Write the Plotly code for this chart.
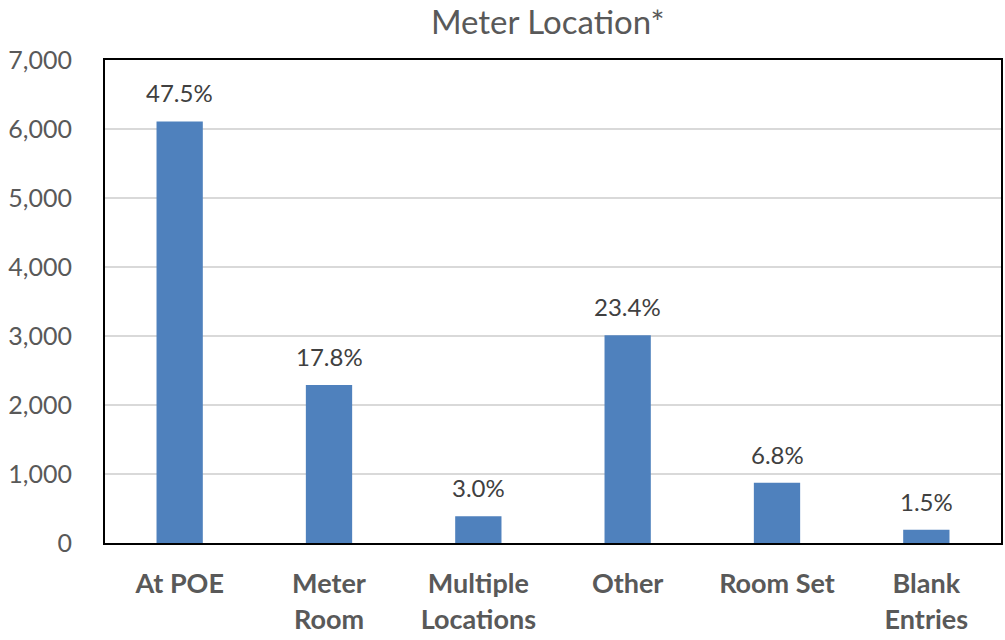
import plotly.graph_objects as go

categories = ["At POE", "Meter<br>Room", "Multiple<br>Locations", "Other", "Room Set", "Blank<br>Entries"]
counts = [6110, 2290, 386, 3010, 875, 193]
y_ticks = [0, 1000, 2000, 3000, 4000, 5000, 6000, 7000]

total = sum(counts)
pct_labels = [f"{c / total * 100:.1f}%" for c in counts]

FONT = "Lato, 'Open Sans', sans-serif"

fig = go.Figure(
    go.Bar(
        x=categories,
        y=counts,
        marker=dict(color="#4f81bd", line=dict(width=0)),
        width=0.31,
        hoverinfo="x+y",
    )
)

# percentage labels floating above each bar
for cat, val, lab in zip(categories, counts, pct_labels):
    fig.add_annotation(
        x=cat,
        y=val,
        text=lab,
        showarrow=False,
        yanchor="bottom",
        yshift=12,
        font=dict(family=FONT, size=24, color="#404040"),
    )

fig.update_layout(
    width=1005,
    height=640,
    margin=dict(l=105, r=2, t=60, b=97),
    paper_bgcolor="white",
    plot_bgcolor="white",
    showlegend=False,
    title=dict(
        text="Meter Location*",
        x=0.545,
        xanchor="center",
        y=0.965,
        yanchor="middle",
        font=dict(family=FONT, size=33, color="#595959"),
    ),
    xaxis=dict(
        showline=True,
        linecolor="black",
        linewidth=2,
        mirror=True,
        showgrid=False,
        ticks="",
        ticklabelstandoff=16,
        tickfont=dict(family=FONT, size=27, color="#595959", weight="bold"),
    ),
    yaxis=dict(
        range=[0, 7000],
        tickvals=y_ticks,
        tickformat=",",
        showline=True,
        linecolor="black",
        linewidth=2,
        mirror=True,
        showgrid=True,
        gridcolor="#d9d9d9",
        gridwidth=2,
        zeroline=False,
        ticks="",
        ticklabelstandoff=26,
        tickfont=dict(family=FONT, size=25, color="#595959"),
    ),
)

fig.write_html("out.html")
